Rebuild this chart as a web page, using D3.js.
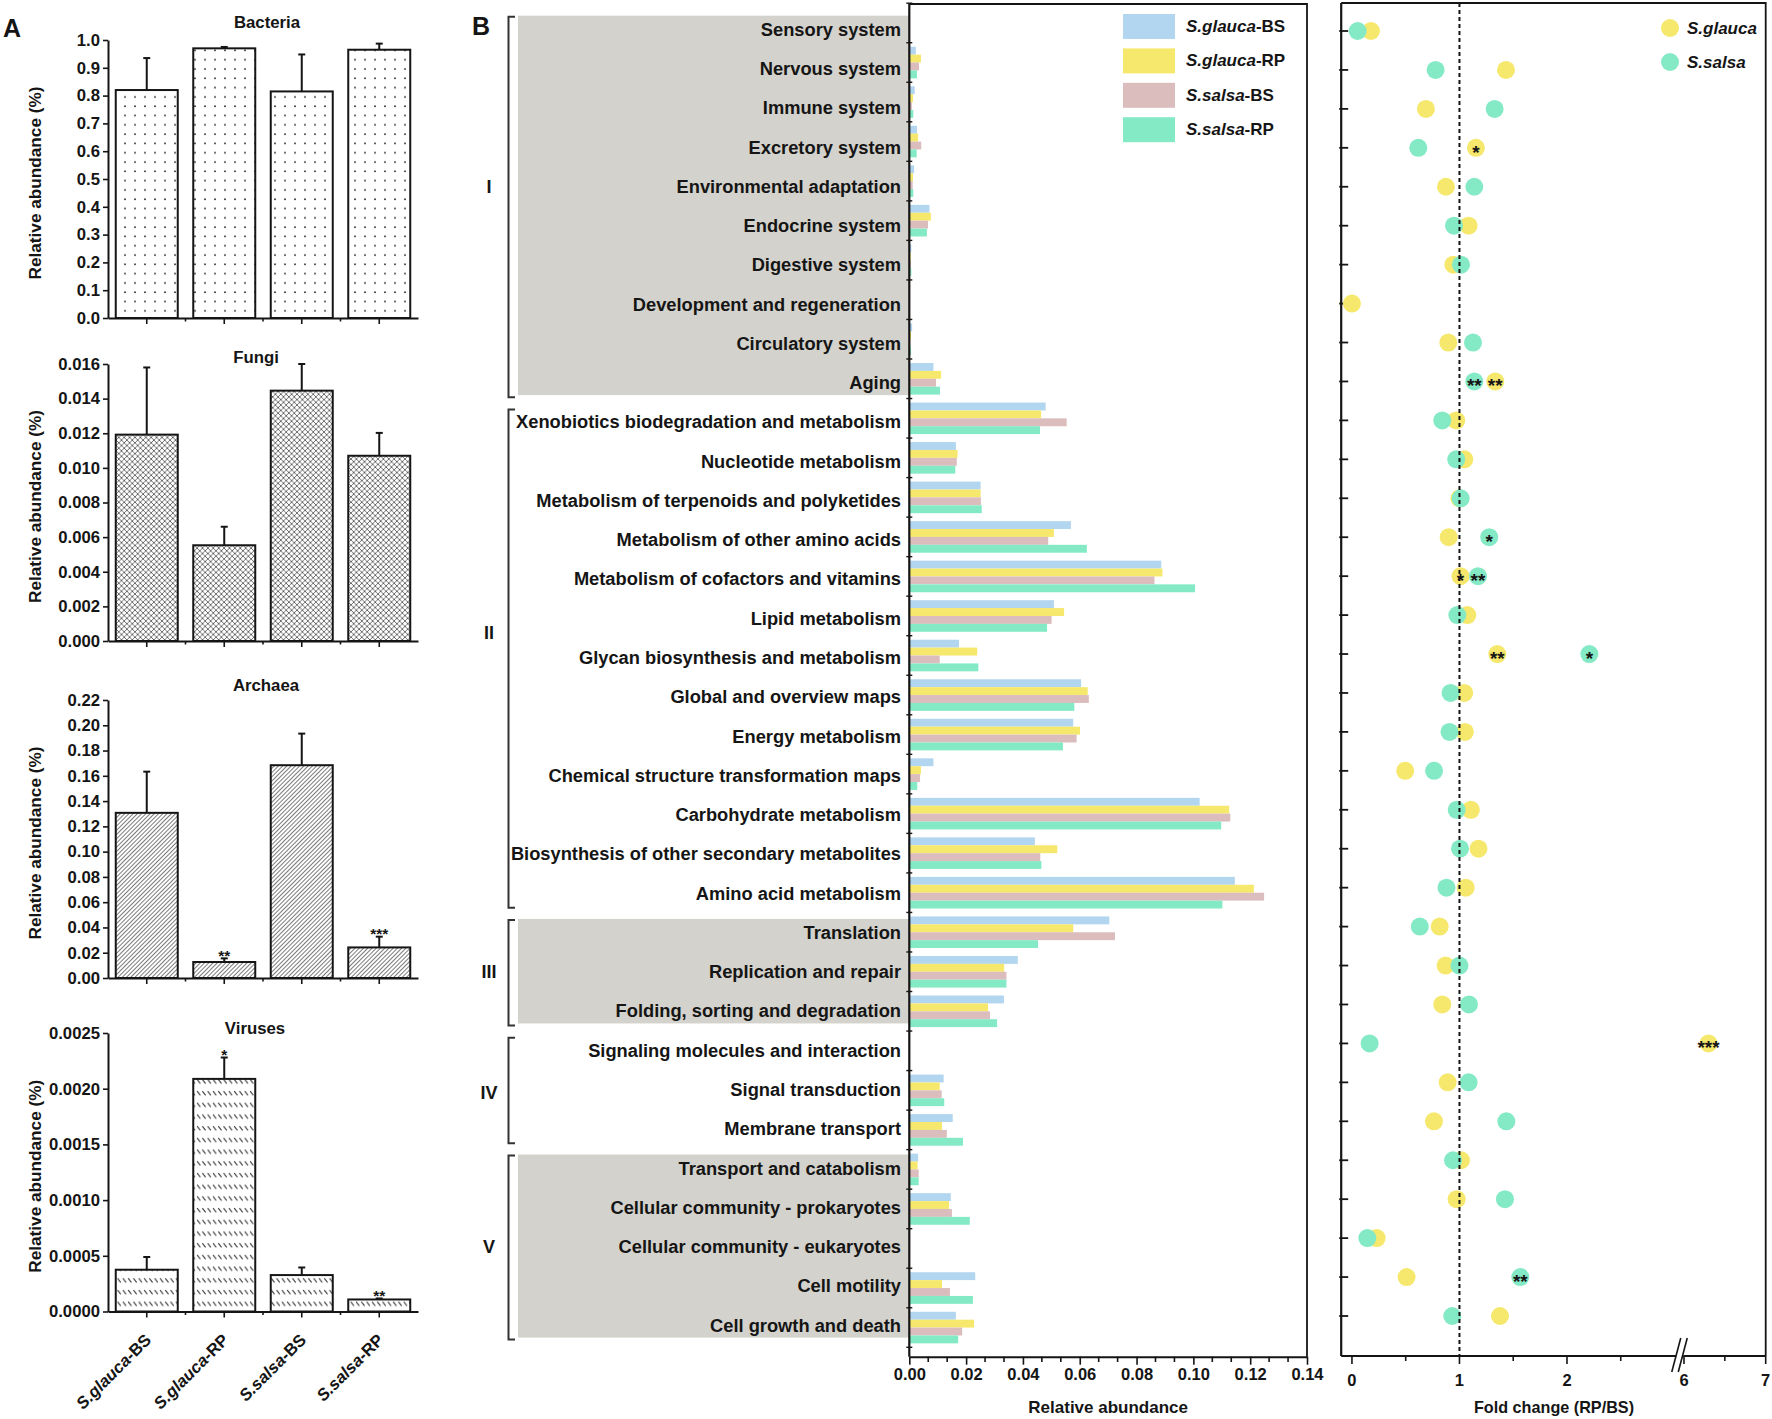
<!DOCTYPE html>
<html>
<head>
<meta charset="utf-8">
<script src="https://cdn.jsdelivr.net/npm/d3@7"></script>
<style>
  body { margin: 0; background: #fff; }
  svg { display: block; font-family: "Liberation Sans", Arial, sans-serif; font-weight: bold; }
</style>
</head>
<body>
<svg id="chart" width="1772" height="1419"></svg>
<script>
// ---------- Panel A data ----------
const groupsA = ["S.glauca-BS", "S.glauca-RP", "S.salsa-BS", "S.salsa-RP"];

const bacteriaMean = [0.820, 0.970, 0.815, 0.965];
const bacteriaSe   = [0.115, 0.005, 0.133, 0.022];
const bacteriaSig  = ["", "", "", ""];
const bacteriaTicks = [0, 0.1, 0.2, 0.3, 0.4, 0.5, 0.6, 0.7, 0.8, 0.9, 1.0];

const fungiMean = [0.01192, 0.00553, 0.01446, 0.01070];
const fungiSe   = [0.00388, 0.00107, 0.00154, 0.00132];
const fungiSig  = ["", "", "", ""];
const fungiTicks = [0, 0.002, 0.004, 0.006, 0.008, 0.010, 0.012, 0.014, 0.016];

const archaeaMean = [0.1307, 0.01265, 0.1684, 0.0242];
const archaeaSe   = [0.0326, 0.0029, 0.0250, 0.0085];
const archaeaSig  = ["", "**", "", "***"];
const archaeaTicks = [0, 0.02, 0.04, 0.06, 0.08, 0.10, 0.12, 0.14, 0.16, 0.18, 0.20, 0.22];

const virusesMean = [0.000375, 0.002088, 0.000327, 0.000108];
const virusesSe   = [0.000114, 0.000192, 0.000068, 0.000009];
const virusesSig  = ["", "*", "", "**"];
const virusesTicks = [0, 0.0005, 0.0010, 0.0015, 0.0020, 0.0025];

// ---------- Panel B data ----------
const categories = [
  "Sensory system", "Nervous system", "Immune system", "Excretory system",
  "Environmental adaptation", "Endocrine system", "Digestive system",
  "Development and regeneration", "Circulatory system", "Aging",
  "Xenobiotics biodegradation and metabolism", "Nucleotide metabolism",
  "Metabolism of terpenoids and polyketides", "Metabolism of other amino acids",
  "Metabolism of cofactors and vitamins", "Lipid metabolism",
  "Glycan biosynthesis and metabolism", "Global and overview maps",
  "Energy metabolism", "Chemical structure transformation maps",
  "Carbohydrate metabolism", "Biosynthesis of other secondary metabolites",
  "Amino acid metabolism", "Translation", "Replication and repair",
  "Folding, sorting and degradation", "Signaling molecules and interaction",
  "Signal transduction", "Membrane transport", "Transport and catabolism",
  "Cellular community - prokaryotes", "Cellular community - eukaryotes",
  "Cell motility", "Cell growth and death"
];

const seriesNames = ["S.glauca-BS", "S.glauca-RP", "S.salsa-BS", "S.salsa-RP"];
const seriesColors = ["#b3d6f0", "#f6e86c", "#dbbdbe", "#84eac5"];

const glaucaBS = [0, 0.0023, 0.0019, 0.0027, 0.0017, 0.0071, 0.0007, 0.0001, 0.0010, 0.0085,
  0.0480, 0.0164, 0.0251, 0.0569, 0.0887, 0.0509, 0.0175, 0.0605, 0.0577, 0.0085,
  0.1022, 0.0442, 0.1146, 0.0704, 0.0382, 0.0333, 0, 0.0121, 0.0153, 0.0031,
  0.0146, 0.0002, 0.0232, 0.0164];
const glaucaRP = [0, 0.0041, 0.0013, 0.0031, 0.0013, 0.0076, 0.0005, 0, 0.0006, 0.0112,
  0.0464, 0.0170, 0.0251, 0.0509, 0.0891, 0.0545, 0.0239, 0.0628, 0.0601, 0.0041,
  0.1126, 0.0521, 0.1213, 0.0577, 0.0334, 0.0277, 0, 0.0107, 0.0115, 0.0029,
  0.0140, 0.0001, 0.0115, 0.0228];
const salsaBS = [0, 0.0034, 0.0009, 0.0042, 0.0012, 0.0066, 0.0006, 0, 0.0004, 0.0094,
  0.0554, 0.0167, 0.0252, 0.0489, 0.0863, 0.0501, 0.0107, 0.0632, 0.0589, 0.0038,
  0.1130, 0.0461, 0.1249, 0.0724, 0.0342, 0.0284, 0, 0.0114, 0.0132, 0.0033,
  0.0150, 0.0002, 0.0143, 0.0186];
const salsaRP = [0, 0.0027, 0.0014, 0.0026, 0.0014, 0.0062, 0.0007, 0, 0.0006, 0.0108,
  0.0460, 0.0162, 0.0255, 0.0625, 0.1006, 0.0485, 0.0243, 0.0581, 0.0541, 0.0028,
  0.1098, 0.0465, 0.1102, 0.0453, 0.0342, 0.0309, 0, 0.0123, 0.0189, 0.0033,
  0.0213, 0.0001, 0.0224, 0.0172];

const groupNames = ["I", "II", "III", "IV", "V"];
const groupFirst = [0, 10, 23, 26, 29];
const groupLast  = [9, 22, 25, 28, 33];
const groupShaded = [true, false, true, false, true];

const barTicks = [0, 0.02, 0.04, 0.06, 0.08, 0.10, 0.12, 0.14];

// ---------- Fold change data ----------
const foldGlauca = [0.177, 1.433, 0.688, 1.153, 0.874, 1.085, 0.943, 0.0, 0.896, 1.333,
  0.970, 1.045, 1.000, 0.900, 1.010, 1.073, 1.352, 1.044, 1.050, 0.495,
  1.106, 1.177, 1.058, 0.816, 0.871, 0.840, 6.300, 0.890, 0.763, 1.014,
  0.974, 0.230, 0.508, 1.377];
const foldSalsa = [0.053, 0.778, 1.327, 0.617, 1.138, 0.949, 1.014, null, 1.126, 1.138,
  0.840, 0.970, 1.011, 1.277, 1.172, 0.980, 2.208, 0.917, 0.907, 0.764,
  0.974, 1.005, 0.879, 0.631, 1.000, 1.088, 0.164, 1.085, 1.436, 0.940,
  1.423, 0.143, 1.566, 0.933];
const sigGlauca = ["", "", "", "*", "", "", "", "", "", "**", "", "", "", "", "*", "", "**",
  "", "", "", "", "", "", "", "", "", "***", "", "", "", "", "", "", ""];
const sigSalsa = ["", "", "", "", "", "", "", "", "", "**", "", "", "", "*", "**", "", "*",
  "", "", "", "", "", "", "", "", "", "", "", "", "", "", "", "**", ""];
const foldMajorTicks = [0, 1, 2, 6, 7];
const foldMinorTicks = [0.5, 1.5, 2.5, 6.5];
const foldSpecies = ["S.glauca", "S.salsa"];
const foldColors = ["#f6e86c", "#84eac5"];

const ink = "#151515";
const svg = d3.select("#chart");

// italic species name + plain suffix
function speciesText(sel, name) {
  const cut = name.lastIndexOf("-");
  sel.append("tspan").attr("font-style", "italic").text(name.slice(0, cut));
  sel.append("tspan").text(name.slice(cut));
}

function styleAxis(g, size) {
  g.attr("font-size", null).attr("font-family", null);
  g.selectAll("text").attr("font-size", size).attr("font-weight", "bold").attr("fill", ink);
  g.selectAll(".tick line").attr("stroke", ink).attr("stroke-width", 1.6);
  g.select(".domain").attr("stroke", ink).attr("stroke-width", 2);
}

// ---------- patterns ----------
const defs = svg.append("defs");
const pDots = defs.append("pattern").attr("id", "pDots")
  .attr("patternUnits", "userSpaceOnUse").attr("width", 10).attr("height", 9.3);
pDots.append("circle").attr("cx", 5).attr("cy", 4).attr("r", 0.9).attr("fill", "#222");

const pCross = defs.append("pattern").attr("id", "pCross")
  .attr("patternUnits", "userSpaceOnUse").attr("width", 5.4).attr("height", 5.4);
pCross.append("path").attr("d", "M0,0L5.4,5.4M5.4,0L0,5.4")
  .attr("stroke", "#333").attr("stroke-width", 0.7);

const pDiag = defs.append("pattern").attr("id", "pDiag")
  .attr("patternUnits", "userSpaceOnUse").attr("width", 3).attr("height", 10)
  .attr("patternTransform", "rotate(45)");
pDiag.append("line").attr("x1", 0.5).attr("x2", 0.5).attr("y1", 0).attr("y2", 10)
  .attr("stroke", "#333").attr("stroke-width", 0.65);

const pDash = defs.append("pattern").attr("id", "pDash")
  .attr("patternUnits", "userSpaceOnUse").attr("width", 5.3).attr("height", 11.7);
pDash.append("line").attr("x1", 1).attr("y1", 3).attr("x2", 4.2).attr("y2", 7.2)
  .attr("stroke", "#333").attr("stroke-width", 1);

// ---------- Panel A ----------
const panelsA = [
  { title: "Bacteria", mean: bacteriaMean, se: bacteriaSe, sig: bacteriaSig, ticks: bacteriaTicks,
    fmt: ".1f", top: 40, bottom: 318, fill: "url(#pDots)", titleX: 267, titleY: 28 },
  { title: "Fungi", mean: fungiMean, se: fungiSe, sig: fungiSig, ticks: fungiTicks,
    fmt: ".3f", top: 364, bottom: 641, fill: "url(#pCross)", titleX: 256, titleY: 363 },
  { title: "Archaea", mean: archaeaMean, se: archaeaSe, sig: archaeaSig, ticks: archaeaTicks,
    fmt: ".2f", top: 700, bottom: 978, fill: "url(#pDiag)", titleX: 266, titleY: 691 },
  { title: "Viruses", mean: virusesMean, se: virusesSe, sig: virusesSig, ticks: virusesTicks,
    fmt: ".4f", top: 1033, bottom: 1311.5, fill: "url(#pDash)", titleX: 255, titleY: 1034 }
];

const xA = d3.scaleBand().domain(groupsA).range([108, 418]).paddingInner(0.2).paddingOuter(0.1);

svg.append("text").attr("x", 3).attr("y", 37).attr("font-size", 25).attr("fill", ink).text("A");

panelsA.forEach((p, pi) => {
  const y = d3.scaleLinear().domain([0, p.ticks[p.ticks.length - 1]]).range([p.bottom, p.top]);
  const g = svg.append("g");

  g.selectAll("rect.bar").data(groupsA).join("rect")
    .attr("class", "bar")
    .attr("x", d => xA(d))
    .attr("width", xA.bandwidth())
    .attr("y", (d, i) => y(p.mean[i]))
    .attr("height", (d, i) => p.bottom - y(p.mean[i]))
    .attr("fill", p.fill)
    .attr("stroke", ink).attr("stroke-width", 2);

  // error bars (upper only)
  groupsA.forEach((d, i) => {
    const cx = xA(d) + xA.bandwidth() / 2;
    const yTop = y(p.mean[i] + p.se[i]);
    g.append("line").attr("x1", cx).attr("x2", cx)
      .attr("y1", y(p.mean[i])).attr("y2", yTop)
      .attr("stroke", ink).attr("stroke-width", 2);
    g.append("line").attr("x1", cx - 3.5).attr("x2", cx + 3.5)
      .attr("y1", yTop).attr("y2", yTop)
      .attr("stroke", ink).attr("stroke-width", 2);
    if (p.sig[i]) {
      g.append("text").attr("x", cx).attr("y", yTop + 2.5)
        .attr("text-anchor", "middle").attr("font-size", 15.5).attr("fill", ink)
        .text(p.sig[i]);
    }
  });

  const ay = g.append("g").attr("transform", "translate(108,0)")
    .call(d3.axisLeft(y).tickValues(p.ticks).tickFormat(d3.format(p.fmt))
      .tickSize(5).tickPadding(3).tickSizeOuter(0));
  styleAxis(ay, 16.7);

  const ax = g.append("g").attr("transform", `translate(0,${p.bottom})`)
    .call(d3.axisBottom(xA).tickSize(6).tickSizeOuter(0).tickFormat(""));
  styleAxis(ax, 16.7);
  // minor ticks between the bars
  groupsA.slice(1).forEach(d => {
    const bx = xA(d) - xA.step() * xA.paddingInner() / 2;
    g.append("line").attr("x1", bx).attr("x2", bx)
      .attr("y1", p.bottom).attr("y2", p.bottom + 3.5)
      .attr("stroke", ink).attr("stroke-width", 1.6);
  });

  g.append("text").attr("x", p.titleX).attr("y", p.titleY)
    .attr("text-anchor", "middle").attr("font-size", 16.8).attr("fill", ink).text(p.title);

  g.append("text")
    .attr("transform", `translate(35,${(p.top + p.bottom) / 2 + 4}) rotate(-90)`)
    .attr("text-anchor", "middle").attr("dominant-baseline", "central")
    .attr("font-size", 17.2).attr("fill", ink).text("Relative abundance (%)");

  if (pi === panelsA.length - 1) {
    groupsA.forEach(d => {
      const cx = xA(d) + xA.bandwidth() / 2;
      const t = g.append("text")
        .attr("transform", `translate(${cx + 5.5},1341) rotate(-45)`)
        .attr("text-anchor", "end").attr("font-size", 16.8).attr("fill", ink);
      speciesText(t, d);
    });
  }
});

// ---------- Panel B: bars ----------
const xBar = d3.scaleLinear().domain([0, 0.14]).range([909.3, 1307]);
const yBar = d3.scaleBand().domain(categories).range([3.2, 1347.3]);
const ySeries = d3.scaleBand().domain(seriesNames).range([4, 35.6]);
const yLabel = d3.scalePoint().domain(categories).range([35.7, 1331.6]);
const seriesValues = [glaucaBS, glaucaRP, salsaBS, salsaRP];

svg.append("text").attr("x", 472).attr("y", 35).attr("font-size", 25).attr("fill", ink).text("B");

const gB = svg.append("g");

// grey shading and brackets for the groups
groupNames.forEach((name, k) => {
  const y0 = yLabel(categories[groupFirst[k]]);
  const y1 = yLabel(categories[groupLast[k]]);
  if (groupShaded[k]) {
    gB.append("rect").attr("x", 518).attr("width", xBar(0) - 518)
      .attr("y", y0 - 20).attr("height", y1 - y0 + 26)
      .attr("fill", "#d4d2cc");
  }
  gB.append("path")
    .attr("d", `M515,${y0 - 19}H508.5V${y1 + 8}H515`)
    .attr("fill", "none").attr("stroke", "#333").attr("stroke-width", 2);
});
const numeralShift = [-19, -25, 0, 3, 0];
groupNames.forEach((name, k) => {
  const mid = (yLabel(categories[groupFirst[k]]) + yLabel(categories[groupLast[k]])) / 2;
  gB.append("text").attr("x", 489).attr("y", mid + numeralShift[k])
    .attr("text-anchor", "middle").attr("font-size", 18).attr("fill", ink).text(name);
});

gB.selectAll("text.cat").data(categories).join("text")
  .attr("class", "cat")
  .attr("x", 901).attr("y", d => yLabel(d))
  .attr("text-anchor", "end").attr("font-size", 18.3).attr("fill", ink)
  .text(d => d);

seriesNames.forEach((s, si) => {
  gB.append("g").selectAll("rect").data(categories).join("rect")
    .attr("x", xBar(0))
    .attr("y", d => yBar(d) + ySeries(s))
    .attr("height", ySeries.bandwidth())
    .attr("width", (d, i) => xBar(seriesValues[si][i]) - xBar(0))
    .attr("fill", seriesColors[si]);
});

// frame
gB.append("path")
  .attr("d", `M${xBar(0)},4H${xBar(0.14)}V1356.7`)
  .attr("fill", "none").attr("stroke", ink).attr("stroke-width", 1.8);
gB.append("line").attr("x1", xBar(0)).attr("x2", xBar(0)).attr("y1", 4).attr("y2", 1356.7)
  .attr("stroke", ink).attr("stroke-width", 2.2);
// small ticks at category boundaries
gB.selectAll("line.cb").data(categories.concat(["end"])).join("line")
  .attr("class", "cb")
  .attr("x1", xBar(0) - 3).attr("x2", xBar(0) + 3)
  .attr("y1", (d, i) => i < categories.length ? yBar(d) : yBar.range()[1])
  .attr("y2", (d, i) => i < categories.length ? yBar(d) : yBar.range()[1])
  .attr("stroke", ink).attr("stroke-width", 1.4);

const axB = gB.append("g").attr("transform", "translate(0,1356.7)")
  .call(d3.axisBottom(xBar).tickValues(barTicks).tickFormat(d3.format(".2f"))
    .tickSize(8).tickPadding(4).tickSizeOuter(0));
styleAxis(axB, 16.5);
const barMinor = d3.range(0, 21).filter(i => i % 3 !== 0).map(i => i * 0.02 / 3);
gB.selectAll("line.mn").data(barMinor).join("line")
  .attr("class", "mn")
  .attr("x1", d => xBar(d)).attr("x2", d => xBar(d))
  .attr("y1", 1356.7).attr("y2", 1362)
  .attr("stroke", ink).attr("stroke-width", 1.6);

gB.append("text").attr("x", (xBar(0) + xBar(0.14)) / 2).attr("y", 1413)
  .attr("text-anchor", "middle").attr("font-size", 17).attr("fill", ink)
  .text("Relative abundance");

// legend
seriesNames.forEach((s, si) => {
  const ly = 14 + si * 34.4;
  gB.append("rect").attr("x", 1123).attr("y", ly).attr("width", 52).attr("height", 25)
    .attr("fill", seriesColors[si]);
  const t = gB.append("text").attr("x", 1186).attr("y", ly + 18)
    .attr("font-size", 17).attr("fill", ink);
  speciesText(t, s);
});

// ---------- Panel B: fold change ----------
const xFold = d3.scaleLinear().domain([-0.1, 3, 6, 7]).range([1341.2, 1674.5, 1684, 1765.7]);
const yFold = d3.scalePoint().domain(categories).range([31, 1316]);
const gF = svg.append("g");
const fLeft = xFold(-0.1), fRight = xFold(7), fTop = 3, fBottom = 1356;

gF.append("path").attr("d", `M${fLeft},${fTop}H${fRight}V${fBottom}`)
  .attr("fill", "none").attr("stroke", ink).attr("stroke-width", 1.8);
gF.append("line").attr("x1", fLeft).attr("x2", fLeft).attr("y1", fTop).attr("y2", fBottom)
  .attr("stroke", ink).attr("stroke-width", 2.2);
gF.selectAll("line.yt").data(categories).join("line")
  .attr("class", "yt")
  .attr("x1", fLeft - 2).attr("x2", fLeft + 7)
  .attr("y1", d => yFold(d)).attr("y2", d => yFold(d))
  .attr("stroke", ink).attr("stroke-width", 1.8);

// x axis with a break between 3 and 6
const xb = (xFold(3) + xFold(6)) / 2;
gF.append("line").attr("x1", fLeft).attr("x2", xb - 3).attr("y1", fBottom).attr("y2", fBottom)
  .attr("stroke", ink).attr("stroke-width", 2);
gF.append("line").attr("x1", xb + 4).attr("x2", fRight).attr("y1", fBottom).attr("y2", fBottom)
  .attr("stroke", ink).attr("stroke-width", 2);
[-3, 3.5].forEach(o => {
  gF.append("line")
    .attr("x1", xb + o - 4.5).attr("y1", fBottom + 16)
    .attr("x2", xb + o + 4.5).attr("y2", fBottom - 18)
    .attr("stroke", ink).attr("stroke-width", 1.6);
});
gF.selectAll("line.fmaj").data(foldMajorTicks).join("line")
  .attr("class", "fmaj")
  .attr("x1", d => xFold(d)).attr("x2", d => xFold(d))
  .attr("y1", fBottom).attr("y2", fBottom + 8)
  .attr("stroke", ink).attr("stroke-width", 1.6);
gF.selectAll("line.fmin").data(foldMinorTicks).join("line")
  .attr("class", "fmin")
  .attr("x1", d => xFold(d)).attr("x2", d => xFold(d))
  .attr("y1", fBottom).attr("y2", fBottom + 5)
  .attr("stroke", ink).attr("stroke-width", 1.6);
gF.selectAll("text.fl").data(foldMajorTicks).join("text")
  .attr("class", "fl")
  .attr("x", d => xFold(d)).attr("y", 1386)
  .attr("text-anchor", "middle").attr("font-size", 16.5).attr("fill", ink)
  .text(d => d);
gF.append("text").attr("x", 1554).attr("y", 1413)
  .attr("text-anchor", "middle").attr("font-size", 16.2).attr("fill", ink)
  .text("Fold change (RP/BS)");

// dots: S.glauca first, S.salsa on top
[foldGlauca, foldSalsa].forEach((vals, k) => {
  gF.append("g").selectAll("circle")
    .data(categories.map((c, i) => ({ c, v: vals[i] })).filter(d => d.v !== null))
    .join("circle")
    .attr("cx", d => xFold(d.v)).attr("cy", d => yFold(d.c))
    .attr("r", 9).attr("fill", foldColors[k]);
});
[[foldGlauca, sigGlauca], [foldSalsa, sigSalsa]].forEach(([vals, sig]) => {
  categories.forEach((c, i) => {
    if (!sig[i]) return;
    gF.append("text").attr("x", xFold(vals[i])).attr("y", yFold(c) + 11)
      .attr("text-anchor", "middle").attr("font-size", 19).attr("fill", ink)
      .text(sig[i]);
  });
});

// reference line at fold change = 1
gF.append("line").attr("x1", xFold(1)).attr("x2", xFold(1))
  .attr("y1", fTop).attr("y2", fBottom)
  .attr("stroke", ink).attr("stroke-width", 2).attr("stroke-dasharray", "4,3");

// legend
foldSpecies.forEach((s, k) => {
  const ly = 28 + k * 34;
  gF.append("circle").attr("cx", 1670).attr("cy", ly).attr("r", 9).attr("fill", foldColors[k]);
  gF.append("text").attr("x", 1687).attr("y", ly + 6)
    .attr("font-size", 17).attr("font-style", "italic").attr("fill", ink).text(s);
});
</script>
</body>
</html>
